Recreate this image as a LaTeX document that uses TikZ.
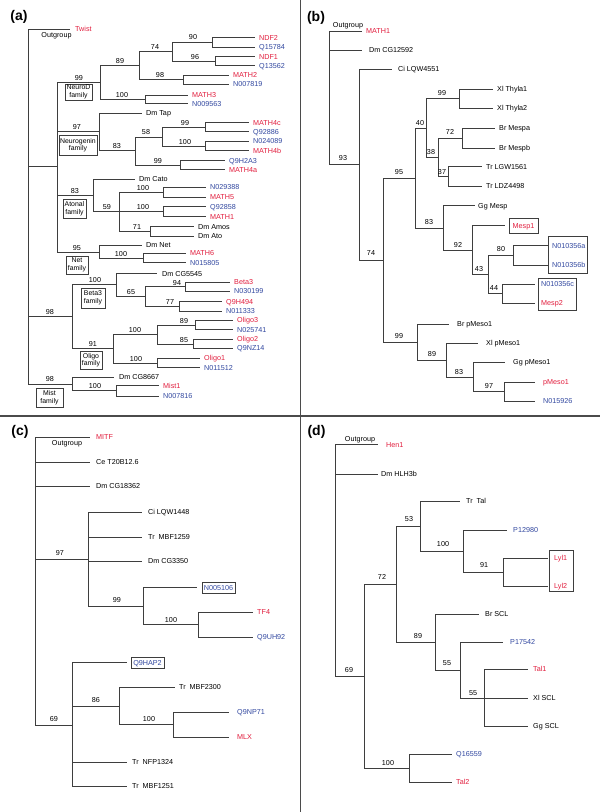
\documentclass[tikz,border=0pt]{standalone}
\usepackage{fontspec}
\setmainfont{Liberation Sans}
\definecolor{myred}{RGB}{226,30,62}
\definecolor{myblue}{RGB}{50,72,160}
\definecolor{lngray}{RGB}{62,62,62}
\definecolor{divgray}{RGB}{75,75,75}
\newcommand\lblfont{\fontsize{7.2}{8.4}\selectfont}
\newcommand\famfont{\fontsize{6.9}{7.5}\selectfont}
\newcommand\panelfont{\fontsize{14}{16}\selectfont\bfseries}
\newcommand\tolf[3]{\draw[br] (#1) |- ([xshift=-#3pt]#2.west);}
\tikzset{
  br/.style={draw=lngray, line width=0.75pt},
  leaf/.style={anchor=west, inner sep=0pt, text height=5.2pt, text depth=0pt, font=\lblfont},
  lr/.style={leaf, text=myred},
  lb/.style={leaf, text=myblue},
  bs/.style={inner sep=0pt, text height=5.2pt, text depth=0pt, font=\lblfont},
  og/.style={bs},
  fam/.style={draw=lngray, line width=0.6pt, align=center, inner sep=0pt, font=\famfont},
  boxleaf/.style={draw=lngray, line width=0.6pt, inner sep=0pt, text height=5.2pt, text depth=0pt, font=\lblfont},
  grpbox/.style={draw=lngray, line width=0.6pt, inner sep=0pt},
  plabel/.style={inner sep=0pt, font=\panelfont},
  div/.style={draw=divgray, line width=1.1pt}
}
\begin{document}
\begin{tikzpicture}[x=1pt,y=-1pt]
\useasboundingbox (0,0) rectangle (600,812);
\fill[white] (0,0) rectangle (600,812);
% dividers
\coordinate (dvT) at (300.5,0); \coordinate (dvB) at (300.5,812);
\coordinate (dhL) at (0,416); \coordinate (dhR) at (600,416);
\draw[div] (dvT) -- (dvB);
\draw[div] (dhL) -- (dhR);

% ================= (a)
\node[plabel] (labA) at (19,17) {(a)};
\coordinate (a0) at (28,166);
\coordinate (aN) at (57,166);
\coordinate (aBO) at (72,316);
\coordinate (aMi) at (72,384);
\coordinate (aND) at (100,82);
\coordinate (aNg) at (99,131.5);
\coordinate (aAt) at (93,195);
\coordinate (aNet) at (99,252);
\coordinate (a89) at (139,65);
\coordinate (aM3) at (145,99);
\coordinate (a74) at (172,51.5);
\coordinate (a98) at (183,79.5);
\coordinate (a90) at (212,42);
\coordinate (a96) at (215,61);
\coordinate (a83g) at (135,150.5);
\coordinate (a58) at (162,137);
\coordinate (a99g) at (180,165);
\coordinate (a99c) at (205,127);
\coordinate (a100b) at (205,146);
\coordinate (a59) at (119,211.5);
\coordinate (aM5) at (163,192);
\coordinate (aM1) at (163,211.5);
\coordinate (a71) at (150,231);
\coordinate (aM6) at (143,258);
\coordinate (aB3) at (116,284.5);
\coordinate (aOl) at (113,348.5);
\coordinate (a65) at (145,296.5);
\coordinate (a94) at (185,286.5);
\coordinate (a77) at (179,306);
\coordinate (aO100) at (157,334.5);
\coordinate (aO1) at (157,363);
\coordinate (a89o) at (195,325);
\coordinate (a85o) at (193,344);
\coordinate (aMi1) at (116,390.5);

\node[lr] (Twist) at (75,29) {Twist};
\node[og] (ogA) at (56.5,34.5) {Outgroup};
\node[lr] (NDF2) at (259,37.5) {NDF2};
\node[lb] (Q15784) at (259,47) {Q15784};
\node[lr] (NDF1) at (259,56.5) {NDF1};
\node[lb] (Q13562) at (259,65.5) {Q13562};
\node[lr] (MATH2) at (233,75) {MATH2};
\node[lb] (N007819) at (233,84) {N007819};
\node[lr] (MATH3) at (192,95) {MATH3};
\node[lb] (N009563) at (192,103.5) {N009563};
\node[leaf] (DmTap) at (146,113) {Dm Tap};
\node[lr] (MATH4c) at (253,122.5) {MATH4c};
\node[lb] (Q92886) at (253,131.5) {Q92886};
\node[lb] (N024089) at (253,141) {N024089};
\node[lr] (MATH4b) at (253,150.5) {MATH4b};
\node[lb] (Q9H2A3) at (229,160.5) {Q9H2A3};
\node[lr] (MATH4a) at (229,169.5) {MATH4a};
\node[leaf] (DmCato) at (139,179) {Dm Cato};
\node[lb] (N029388) at (210,187) {N029388};
\node[lr] (MATH5) at (210,197) {MATH5};
\node[lb] (Q92858) at (210,206.5) {Q92858};
\node[lr] (MATH1a) at (210,216.5) {MATH1};
\node[leaf] (DmAmos) at (198,226.5) {Dm Amos};
\node[leaf] (DmAto) at (198,236) {Dm Ato};
\node[leaf] (DmNet) at (146,245) {Dm Net};
\node[lr] (MATH6) at (190,253) {MATH6};
\node[lb] (N015805) at (190,262.5) {N015805};
\node[leaf] (DmCG5545) at (162,273.5) {Dm CG5545};
\node[lr] (Beta3) at (234,282) {Beta3};
\node[lb] (N030199) at (234,291) {N030199};
\node[lr] (Q9H494) at (226,301.5) {Q9H494};
\node[lb] (N011333) at (226,311) {N011333};
\node[lr] (Oligo3) at (237,320.3) {Oligo3};
\node[lb] (N025741) at (237,329.5) {N025741};
\node[lr] (Oligo2) at (237,339.3) {Oligo2};
\node[lb] (Q9NZ14) at (237,348) {Q9NZ14};
\node[lr] (Oligo1) at (204,358.3) {Oligo1};
\node[lb] (N011512) at (204,367.7) {N011512};
\node[leaf] (DmCG8667) at (119,377) {Dm CG8667};
\node[lr] (Mist1) at (163,385.5) {Mist1};
\node[lb] (N007816) at (163,396) {N007816};

\draw[br] (a0) |- (aN) (a0) |- (aBO) (a0) |- (aMi);
\tolf{a0}{Twist}{5}
\draw[br] (aN) |- (aND) (aN) |- (aNg) (aN) |- (aAt) (aN) |- (aNet);
\draw[br] (aND) |- (a89) (aND) |- (aM3);
\draw[br] (a89) |- (a74) (a89) |- (a98);
\draw[br] (a74) |- (a90) (a74) |- (a96);
\tolf{a90}{NDF2}{4} \tolf{a90}{Q15784}{4}
\tolf{a96}{NDF1}{4} \tolf{a96}{Q13562}{4}
\tolf{a98}{MATH2}{4} \tolf{a98}{N007819}{4}
\tolf{aM3}{MATH3}{4} \tolf{aM3}{N009563}{4}
\tolf{aNg}{DmTap}{4}
\draw[br] (aNg) |- (a83g);
\draw[br] (a83g) |- (a58) (a83g) |- (a99g);
\draw[br] (a58) |- (a99c) (a58) |- (a100b);
\tolf{a99c}{MATH4c}{4} \tolf{a99c}{Q92886}{4}
\tolf{a100b}{N024089}{4} \tolf{a100b}{MATH4b}{4}
\tolf{a99g}{Q9H2A3}{4} \tolf{a99g}{MATH4a}{4}
\tolf{aAt}{DmCato}{4}
\draw[br] (aAt) |- (a59);
\draw[br] (a59) |- (aM5) (a59) |- (aM1) (a59) |- (a71);
\tolf{aM5}{N029388}{4} \tolf{aM5}{MATH5}{4}
\tolf{aM1}{Q92858}{4} \tolf{aM1}{MATH1a}{4}
\tolf{a71}{DmAmos}{4} \tolf{a71}{DmAto}{4}
\tolf{aNet}{DmNet}{4}
\draw[br] (aNet) |- (aM6);
\tolf{aM6}{MATH6}{4} \tolf{aM6}{N015805}{4}
\draw[br] (aBO) |- (aB3) (aBO) |- (aOl);
\tolf{aB3}{DmCG5545}{5}
\draw[br] (aB3) |- (a65);
\draw[br] (a65) |- (a94) (a65) |- (a77);
\tolf{a94}{Beta3}{4} \tolf{a94}{N030199}{4}
\tolf{a77}{Q9H494}{4} \tolf{a77}{N011333}{4}
\draw[br] (aOl) |- (aO100) (aOl) |- (aO1);
\draw[br] (aO100) |- (a89o) (aO100) |- (a85o);
\tolf{a89o}{Oligo3}{4} \tolf{a89o}{N025741}{4}
\tolf{a85o}{Oligo2}{4} \tolf{a85o}{Q9NZ14}{4}
\tolf{aO1}{Oligo1}{4} \tolf{aO1}{N011512}{4}
\tolf{aMi}{DmCG8667}{5}
\draw[br] (aMi) |- (aMi1);
\tolf{aMi1}{Mist1}{4} \tolf{aMi1}{N007816}{4}

\node[bs] (sA1) at (79,78) {99};
\node[bs] (sA2) at (120,61) {89};
\node[bs] (sA3) at (155,47) {74};
\node[bs] (sA4) at (193,37) {90};
\node[bs] (sA5) at (195,57) {96};
\node[bs] (sA6) at (160,75) {98};
\node[bs] (sA7) at (122,95) {100};
\node[bs] (sA8) at (77,127) {97};
\node[bs] (sA9) at (117,146) {83};
\node[bs] (sA10) at (146,132) {58};
\node[bs] (sA11) at (185,123) {99};
\node[bs] (sA12) at (185,142) {100};
\node[bs] (sA13) at (158,161) {99};
\node[bs] (sA14) at (75,191) {83};
\node[bs] (sA15) at (107,207) {59};
\node[bs] (sA16) at (143,187.5) {100};
\node[bs] (sA17) at (143,207) {100};
\node[bs] (sA18) at (137,227) {71};
\node[bs] (sA19) at (77,248) {95};
\node[bs] (sA20) at (121,253.5) {100};
\node[bs] (sA21) at (50,312) {98};
\node[bs] (sA22) at (95,280) {100};
\node[bs] (sA23) at (131,292) {65};
\node[bs] (sA24) at (177,283) {94};
\node[bs] (sA25) at (170,301.5) {77};
\node[bs] (sA26) at (93,344) {91};
\node[bs] (sA27) at (135,330) {100};
\node[bs] (sA28) at (184,321) {89};
\node[bs] (sA29) at (184,340) {85};
\node[bs] (sA30) at (136,358.5) {100};
\node[bs] (sA31) at (50,379) {98};
\node[bs] (sA32) at (95,386) {100};

\node[fam, minimum width=27pt, minimum height=16pt] (famND) at (78.5,92) {NeuroD\\family};
\node[fam, minimum width=38pt, minimum height=20pt] (famNg) at (78,145) {Neurogenin\\family};
\node[fam, minimum width=23pt, minimum height=19pt] (famAt) at (74.5,208.5) {Atonal\\family};
\node[fam, minimum width=22pt, minimum height=18pt] (famNet) at (77,265) {Net\\family};
\node[fam, minimum width=24pt, minimum height=20pt] (famB3) at (93,298) {Beta3\\family};
\node[fam, minimum width=22pt, minimum height=18pt] (famOl) at (91,360) {Oligo\\family};
\node[fam, minimum width=27pt, minimum height=19pt] (famMi) at (49.5,397.5) {Mist\\family};

% ================= (b)
\node[plabel] (labB) at (316,17.5) {(b)};
\coordinate (b0) at (329,97);
\coordinate (b93) at (359,164.5);
\coordinate (b74) at (383,260);
\coordinate (b95) at (415,178);
\coordinate (b99) at (417,342);
\coordinate (b40) at (426,128);
\coordinate (b83) at (443,228);
\coordinate (b99t) at (459,98.5);
\coordinate (b38) at (438,157);
\coordinate (b72) at (462,138);
\coordinate (b37) at (448,176.5);
\coordinate (b92) at (472,250);
\coordinate (b43) at (488,274.5);
\coordinate (b80) at (513,255.5);
\coordinate (b44) at (502,293.5);
\coordinate (b89) at (446,360);
\coordinate (b83p) at (473,377);
\coordinate (b97) at (504,391.5);

\node[og] (ogB) at (348,25) {Outgroup};
\node[lr] (MATH1b) at (366,31) {MATH1};
\node[leaf] (DmCG12592) at (369,50) {Dm CG12592};
\node[leaf] (CiLQW4551) at (398,69) {Ci LQW4551};
\node[leaf] (XlThyla1) at (497,89) {Xl Thyla1};
\node[leaf] (XlThyla2) at (497,108) {Xl Thyla2};
\node[leaf] (BrMespa) at (499,128) {Br Mespa};
\node[leaf] (BrMespb) at (499,148) {Br Mespb};
\node[leaf] (TrLGW1561) at (486,166.5) {Tr LGW1561};
\node[leaf] (TrLDZ4498) at (486,186) {Tr LDZ4498};
\node[leaf] (GgMesp) at (478,205.5) {Gg Mesp};
\node[boxleaf, text=myred, minimum width=29pt, minimum height=15pt] (Mesp1) at (523.5,225.5) {Mesp1};
\node[lb] (N010356a) at (552,245.5) {N010356a};
\node[lb] (N010356b) at (552,265) {N010356b};
\node[lb] (N010356c) at (541,284) {N010356c};
\node[lr] (Mesp2) at (541,303) {Mesp2};
\node[grpbox, minimum width=39pt, minimum height=37pt] (boxNab) at (567.5,254.5) {};
\node[grpbox, minimum width=38pt, minimum height=32pt] (boxNcM) at (557,294) {};
\node[leaf] (BrpMeso1) at (457,324) {Br pMeso1};
\node[leaf] (XlpMeso1) at (486,343) {Xl pMeso1};
\node[leaf] (GgpMeso1) at (513,362) {Gg pMeso1};
\node[lr] (pMeso1) at (543,382) {pMeso1};
\node[lb] (N015926) at (543,401) {N015926};

\tolf{b0}{MATH1b}{4} \tolf{b0}{DmCG12592}{7}
\draw[br] (b0) |- (b93);
\tolf{b93}{CiLQW4551}{6}
\draw[br] (b93) |- (b74);
\draw[br] (b74) |- (b95) (b74) |- (b99);
\draw[br] (b95) |- (b40) (b95) |- (b83);
\draw[br] (b40) |- (b99t) (b40) |- (b38);
\tolf{b99t}{XlThyla1}{4} \tolf{b99t}{XlThyla2}{4}
\draw[br] (b38) |- (b72) (b38) |- (b37);
\tolf{b72}{BrMespa}{4} \tolf{b72}{BrMespb}{4}
\tolf{b37}{TrLGW1561}{4} \tolf{b37}{TrLDZ4498}{4}
\tolf{b83}{GgMesp}{3}
\draw[br] (b83) |- (b92);
\tolf{b92}{Mesp1}{4}
\draw[br] (b92) |- (b43);
\draw[br] (b43) |- (b80) (b43) |- (b44);
\tolf{b80}{N010356a}{4} \tolf{b80}{N010356b}{4}
\tolf{b44}{N010356c}{6} \tolf{b44}{Mesp2}{6}
\tolf{b99}{BrpMeso1}{8}
\draw[br] (b99) |- (b89);
\tolf{b89}{XlpMeso1}{8}
\draw[br] (b89) |- (b83p);
\tolf{b83p}{GgpMeso1}{8}
\draw[br] (b83p) |- (b97);
\tolf{b97}{pMeso1}{8} \tolf{b97}{N015926}{8}

\node[bs] (sB1) at (343,158) {93};
\node[bs] (sB2) at (371,253) {74};
\node[bs] (sB3) at (399,172) {95};
\node[bs] (sB4) at (399,336) {99};
\node[bs] (sB5) at (420,123) {40};
\node[bs] (sB6) at (429,222) {83};
\node[bs] (sB7) at (442,93) {99};
\node[bs] (sB8) at (431,152) {38};
\node[bs] (sB9) at (450,132) {72};
\node[bs] (sB10) at (442,172) {37};
\node[bs] (sB11) at (458,245) {92};
\node[bs] (sB12) at (479,269) {43};
\node[bs] (sB13) at (501,249) {80};
\node[bs] (sB14) at (494,288) {44};
\node[bs] (sB15) at (432,354) {89};
\node[bs] (sB16) at (459,372) {83};
\node[bs] (sB17) at (489,386) {97};

% ================= (c)
\node[plabel] (labC) at (20,432) {(c)};
\coordinate (c0) at (35,580);
\coordinate (c97) at (88,559);
\coordinate (c69) at (72,725);
\coordinate (c99) at (143,606);
\coordinate (c100) at (198,624.5);
\coordinate (c86) at (119,706);
\coordinate (c100m) at (173,724.5);

\node[og] (ogC) at (67,443) {Outgroup};
\node[lr] (MITF) at (96,437) {MITF};
\node[leaf] (CeT20) at (96,462) {Ce T20B12.6};
\node[leaf] (DmCG18362) at (96,486) {Dm CG18362};
\node[leaf] (CiLQW1448) at (148,512) {Ci LQW1448};
\node[leaf] (TrMBF1259) at (148,537) {Tr~~MBF1259};
\node[leaf] (DmCG3350) at (148,561) {Dm CG3350};
\node[boxleaf, text=myblue, minimum width=33pt, minimum height=11pt] (N005106) at (218.5,587.5) {N005106};
\node[lr] (TF4) at (257,612) {TF4};
\node[lb] (Q9UH92) at (257,637) {Q9UH92};
\node[boxleaf, text=myblue, minimum width=33pt, minimum height=11pt] (Q9HAP2) at (147.5,662.5) {Q9HAP2};
\node[leaf] (TrMBF2300) at (179,687) {Tr~~MBF2300};
\node[lb] (Q9NP71) at (237,712) {Q9NP71};
\node[lr] (MLX) at (237,737) {MLX};
\node[leaf] (TrNFP1324) at (132,762) {Tr~~NFP1324};
\node[leaf] (TrMBF1251) at (132,786) {Tr~~MBF1251};

\tolf{c0}{MITF}{6} \tolf{c0}{CeT20}{6} \tolf{c0}{DmCG18362}{6}
\draw[br] (c0) |- (c97) (c0) |- (c69);
\tolf{c97}{CiLQW1448}{6} \tolf{c97}{TrMBF1259}{6} \tolf{c97}{DmCG3350}{6}
\draw[br] (c97) |- (c99);
\tolf{c99}{N005106}{5}
\draw[br] (c99) |- (c100);
\tolf{c100}{TF4}{4} \tolf{c100}{Q9UH92}{4}
\tolf{c69}{Q9HAP2}{4}
\draw[br] (c69) |- (c86);
\tolf{c69}{TrNFP1324}{5} \tolf{c69}{TrMBF1251}{5}
\tolf{c86}{TrMBF2300}{4}
\draw[br] (c86) |- (c100m);
\tolf{c100m}{Q9NP71}{8} \tolf{c100m}{MLX}{8}

\node[bs] (sC1) at (60,553) {97};
\node[bs] (sC2) at (117,600) {99};
\node[bs] (sC3) at (171,620) {100};
\node[bs] (sC4) at (54,719) {69};
\node[bs] (sC5) at (96,700) {86};
\node[bs] (sC6) at (149,719) {100};

% ================= (d)
\node[plabel] (labD) at (316.5,432) {(d)};
\coordinate (d0) at (335,560);
\coordinate (d69) at (364,676);
\coordinate (d72) at (396,584);
\coordinate (d100) at (409,768);
\coordinate (d53) at (420,526);
\coordinate (d89) at (435,642);
\coordinate (d100p) at (463,551);
\coordinate (d91) at (503,572);
\coordinate (d55a) at (460,670);
\coordinate (d55b) at (484,698);

\node[og] (ogD) at (360,439) {Outgroup};
\node[lr] (Hen1) at (386,444.5) {Hen1};
\node[leaf] (DmHLH3b) at (381,474) {Dm HLH3b};
\node[leaf] (TrTal) at (466,501) {Tr~~Tal};
\node[lb] (P12980) at (513,530) {P12980};
\node[lr] (Lyl1) at (554,558) {Lyl1};
\node[lr] (Lyl2) at (554,586) {Lyl2};
\node[grpbox, minimum width=24pt, minimum height=41pt] (boxLyl) at (561,570.5) {};
\node[leaf] (BrSCL) at (485,614) {Br SCL};
\node[lb] (P17542) at (510,642) {P17542};
\node[lr] (Tal1) at (533,669) {Tal1};
\node[leaf] (XlSCL) at (533,698) {Xl SCL};
\node[leaf] (GgSCL) at (533,726) {Gg SCL};
\node[lb] (Q16559) at (456,754) {Q16559};
\node[lr] (Tal2) at (456,782) {Tal2};

\tolf{d0}{Hen1}{8} \tolf{d0}{DmHLH3b}{3}
\draw[br] (d0) |- (d69);
\draw[br] (d69) |- (d72) (d69) |- (d100);
\draw[br] (d72) |- (d53) (d72) |- (d89);
\tolf{d53}{TrTal}{6}
\draw[br] (d53) |- (d100p);
\tolf{d100p}{P12980}{6}
\draw[br] (d100p) |- (d91);
\tolf{d91}{Lyl1}{6} \tolf{d91}{Lyl2}{6}
\tolf{d89}{BrSCL}{6}
\draw[br] (d89) |- (d55a);
\tolf{d55a}{P17542}{7}
\draw[br] (d55a) |- (d55b);
\tolf{d55b}{Tal1}{5} \tolf{d55b}{XlSCL}{5} \tolf{d55b}{GgSCL}{5}
\tolf{d100}{Q16559}{4} \tolf{d100}{Tal2}{4}

\node[bs] (sD1) at (349,670) {69};
\node[bs] (sD2) at (382,577) {72};
\node[bs] (sD3) at (388,763) {100};
\node[bs] (sD4) at (409,519) {53};
\node[bs] (sD5) at (418,636) {89};
\node[bs] (sD6) at (443,544) {100};
\node[bs] (sD7) at (484,565) {91};
\node[bs] (sD8) at (447,663) {55};
\node[bs] (sD9) at (473,693) {55};
\end{tikzpicture}
\end{document}
